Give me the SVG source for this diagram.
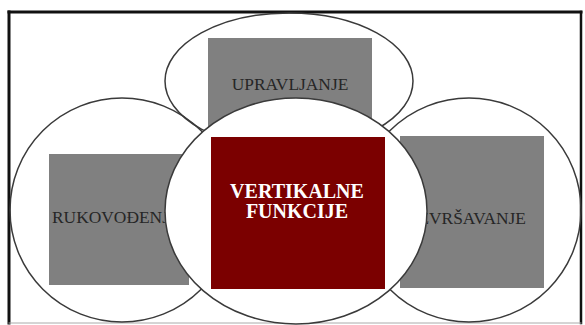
<svg xmlns="http://www.w3.org/2000/svg" width="585" height="325" viewBox="0 0 585 325">
  <style>
    .ring { fill: none; stroke: #3a3a3a; stroke-width: 1.5; }
    .core { fill: #ffffff; stroke: #3a3a3a; stroke-width: 1.5; }
    .box { fill: #808080; }
    .lbl { font-family: "Liberation Serif", "Times New Roman", serif; font-size: 17.4px; fill: #262626; }
    .main { font-family: "Liberation Serif", "Times New Roman", serif; font-size: 20px; font-weight: bold; fill: #ffffff; text-anchor: middle; }
  </style>

  <!-- page background and frame -->
  <rect x="0" y="0" width="585" height="325" fill="#ffffff"/>
  <g id="frame" stroke-linecap="square">
    <line x1="9" y1="12" x2="581" y2="12" stroke="#111" stroke-width="3"/>
    <line x1="9" y1="12" x2="9" y2="323" stroke="#111" stroke-width="3"/>
    <line x1="581" y1="12" x2="581" y2="323" stroke="#111" stroke-width="2.5"/>
    <line x1="9" y1="323" x2="581" y2="323" stroke="#aaa" stroke-width="1"/>
  </g>

  <!-- outer function circles (outlines) -->
  <g id="upravljanje">
    <ellipse class="ring" cx="289" cy="81" rx="124" ry="68"/>
    <rect class="box" x="208" y="38" width="164" height="112"/>
    <text class="lbl" x="290" y="90" text-anchor="middle">UPRAVLJANJE</text>
  </g>

  <g id="rukovodjenje">
    <ellipse class="ring" cx="122" cy="210" rx="112" ry="112"/>
    <rect class="box" x="49" y="154" width="140" height="131"/>
    <text class="lbl" x="52" y="223">RUKOVOĐENJE</text>
  </g>

  <g id="izvrsavanje">
    <ellipse class="ring" cx="469" cy="210" rx="112" ry="112"/>
    <rect class="box" x="400" y="136" width="144" height="152"/>
    <text class="lbl" x="526" y="224" text-anchor="end">IZVRŠAVANJE</text>
  </g>

  <!-- central circle sits on top of the others -->
  <g id="vertikalne-funkcije">
    <ellipse class="core" cx="296" cy="211" rx="131" ry="113"/>
    <rect x="211" y="137" width="174" height="152" fill="#7b0000"/>
    <text class="main" x="297" y="198">VERTIKALNE</text>
    <text class="main" x="297" y="218">FUNKCIJE</text>
  </g>

  <g id="connectors"/>
</svg>
